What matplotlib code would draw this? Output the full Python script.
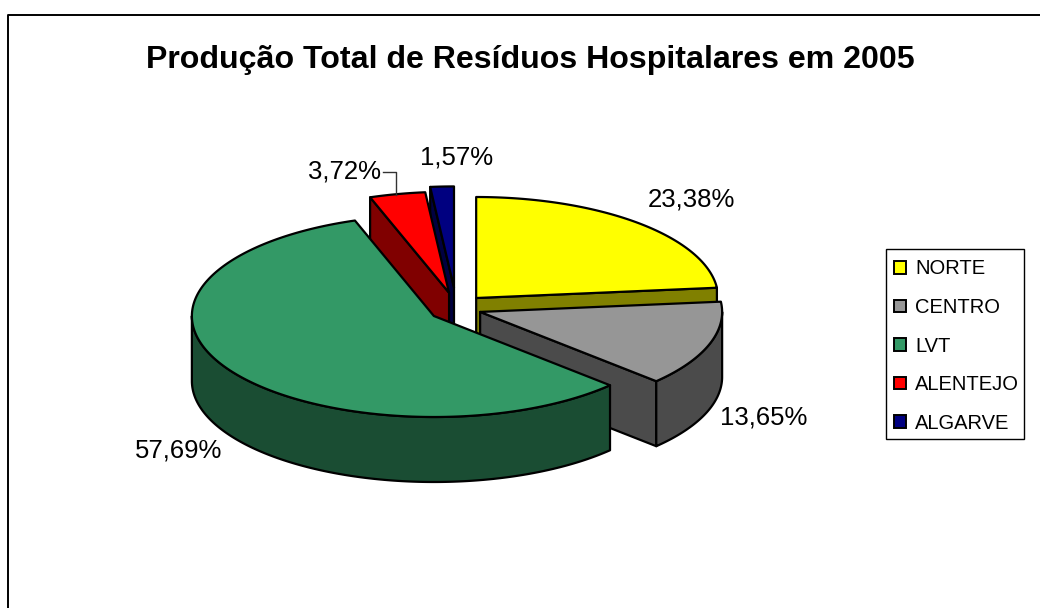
import numpy as np
import matplotlib
matplotlib.use("Agg")
import matplotlib.pyplot as plt
from matplotlib.patches import Patch, Polygon, Rectangle

plt.rcParams['font.family'] = ['Liberation Sans', 'DejaVu Sans']

# Data
regions = ["NORTE", "CENTRO", "LVT", "ALENTEJO", "ALGARVE"]
shares = [23.38, 13.65, 57.69, 3.72, 1.57]
share_labels = ["23,38%", "13,65%", "57,69%", "3,72%", "1,57%"]

title = "Produção Total de Resíduos Hospitalares em 2005"

# Styles
top_colors = ["#FFFF00", "#969696", "#339966", "#FF0000", "#000080"]
side_colors = ["#808000", "#4B4B4B", "#1A4D33", "#800000", "#000040"]
draw_order = [4, 3, 0, 1, 2]  # back to front

# Pie geometry, in pixels of the picture
center_x, center_y = 457.4, 308.4
radius_x, radius_y = 242, 101
depth = 65
explode_x = [28, 24, 28, 39, 69]
explode_y = [14, 11, 14, 16, 21]
label_pos = [(691, 199.5), (764, 417.5), (179, 450.5), (344.5, 172), (457, 157.5)]

fig = plt.figure(figsize=(10.4, 6.08), dpi=100)
ax = fig.add_axes([0, 0, 1, 1])
ax.set_xlim(0, 1040)
ax.set_ylim(608, 0)
ax.axis("off")

# Chart frame: only the top and left edges are in the picture
ax.plot([8, 8, 1040], [608, 15, 15], color="black", lw=1.4, solid_capstyle="butt")


def arc_points(x0, y0, a0, a1):
    # angles in degrees, clockwise from 12 o'clock
    n = max(2, int(abs(a1 - a0) * 2))
    a = np.radians(np.linspace(a0, a1, n))
    return np.column_stack([x0 + radius_x * np.sin(a), y0 - radius_y * np.cos(a)])


def add_wall(points, color):
    # extrude a top edge downwards
    lower = points[::-1] + [0, depth]
    ax.add_patch(Polygon(np.vstack([points, lower]), closed=True, facecolor=color,
                         edgecolor="black", lw=1.6, joinstyle="round"))


ends = np.cumsum(shares) / np.sum(shares) * 360
starts = np.concatenate([[0], ends[:-1]])

for i in draw_order:
    a0, a1 = starts[i], ends[i]
    mid = np.radians((a0 + a1) / 2)
    x0 = center_x + explode_x[i] * np.sin(mid)
    y0 = center_y - explode_y[i] * np.cos(mid)
    apex = np.array([[x0, y0]])

    # radial walls that face the viewer
    if 180 < a0 < 360:
        add_wall(np.vstack([apex, arc_points(x0, y0, a0, a0)[:1]]), side_colors[i])
    if 0 < a1 < 180:
        add_wall(np.vstack([apex, arc_points(x0, y0, a1, a1)[:1]]), side_colors[i])

    # outer wall, front half only
    f0, f1 = max(a0, 90), min(a1, 270)
    if f1 > f0:
        add_wall(arc_points(x0, y0, f0, f1), side_colors[i])

    ax.add_patch(Polygon(np.vstack([apex, arc_points(x0, y0, a0, a1)]), closed=True,
                         facecolor=top_colors[i], edgecolor="black", lw=1.6, joinstyle="round"))

ax.text(530.5, 60, title, fontsize=23.1, fontweight="bold", ha="center", va="center")

for (x, y), lab in zip(label_pos, share_labels):
    ax.text(x, y, lab, fontsize=18.5, ha="center", va="center", color="black")

# Leader line of the 3,72% label
ax.plot([383, 396, 396], [172, 172, 195], color="#333333", lw=1.0)

# Legend box is drawn apart so its padding can differ per side
ax.add_patch(Rectangle((886, 249), 138, 190, facecolor="white", edgecolor="black", lw=1.0))
handles = [Patch(facecolor=c, edgecolor="black", lw=1.4) for c in top_colors]
leg = ax.legend(handles, regions, loc="upper left", bbox_to_anchor=(894 / 1040, 1 - 259.5 / 608),
                borderaxespad=0, borderpad=0, fontsize=14.5, frameon=False,
                handlelength=0.6, handleheight=0.6, handletextpad=0.45, labelspacing=0.97)

fig.savefig("out.png", dpi=100)
